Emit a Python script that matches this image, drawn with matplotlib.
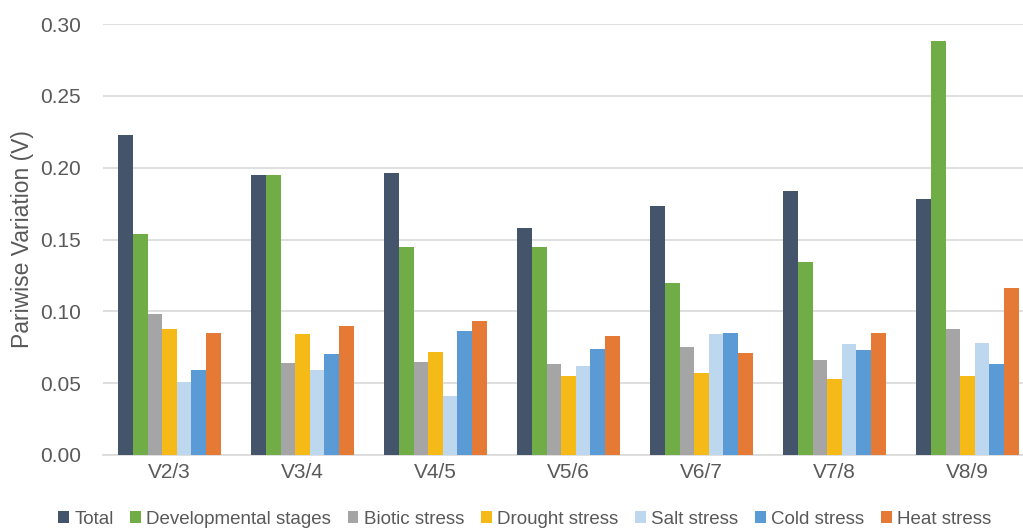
import numpy as np
import matplotlib.pyplot as plt
from matplotlib.patches import Patch

plt.rcParams['font.family'] = ['Liberation Sans', 'DejaVu Sans']

categories = ['V2/3', 'V3/4', 'V4/5', 'V5/6', 'V6/7', 'V7/8', 'V8/9']
series_names = ['Total', 'Developmental stages', 'Biotic stress', 'Drought stress',
                'Salt stress', 'Cold stress', 'Heat stress']
total = [0.223, 0.195, 0.196, 0.158, 0.173, 0.184, 0.178]
developmental = [0.154, 0.195, 0.145, 0.145, 0.120, 0.134, 0.288]
biotic = [0.098, 0.064, 0.065, 0.063, 0.075, 0.066, 0.088]
drought = [0.088, 0.084, 0.072, 0.055, 0.057, 0.053, 0.055]
salt = [0.051, 0.059, 0.041, 0.062, 0.084, 0.077, 0.078]
cold = [0.059, 0.070, 0.086, 0.074, 0.085, 0.073, 0.063]
heat = [0.085, 0.090, 0.093, 0.083, 0.071, 0.085, 0.116]

series = [total, developmental, biotic, drought, salt, cold, heat]
colors = ['#44546A', '#70AD47', '#A5A5A5', '#F5BA18', '#BDD7EE', '#5B9BD5', '#E57A36']
text_color = '#595959'

fig = plt.figure(figsize=(10.23, 5.29), dpi=100)
ax = fig.add_axes([103 / 1023, 1 - 455 / 529, 920 / 1023, 431 / 529])

x = np.arange(len(categories))
bw = 0.1096
for i, (vals, col) in enumerate(zip(series, colors)):
    ax.bar(x + (i - 3) * bw, vals, width=bw, color=col, edgecolor='none', zorder=3)

ax.set_ylim(0, 0.30)
ax.set_yticks(np.arange(0, 0.31, 0.05))
ax.set_yticklabels([f'{v:.2f}' for v in np.arange(0, 0.31, 0.05)])
ax.set_xlim(-0.5, -0.5 + 920 / 133)
ax.set_xticks(x)
ax.set_xticklabels(categories)
ax.yaxis.grid(True, color='#D9D9D9', linewidth=1.2, zorder=0)
for s in ['top', 'right', 'left']:
    ax.spines[s].set_visible(False)
ax.spines['bottom'].set_color('#D9D9D9')
ax.spines['bottom'].set_linewidth(1.2)
ax.tick_params(axis='both', length=0, labelsize=15, colors=text_color)
ax.tick_params(axis='y', pad=16)
ax.tick_params(axis='x', pad=6)
ax.set_ylabel('Pariwise Variation (V)', fontsize=16.5, color=text_color)
ax.yaxis.set_label_coords(-69 / 920, 0.5)

handles = [Patch(facecolor=c, edgecolor='none') for c in colors]
fig.legend(handles, series_names, loc='center', bbox_to_anchor=(0.513, 1 - 519 / 529),
           ncol=7, frameon=False, fontsize=13.5, handlelength=0.55, handleheight=0.55,
           handletextpad=0.3, columnspacing=0.9, labelcolor=text_color)

fig.savefig('out.png', dpi=100)
